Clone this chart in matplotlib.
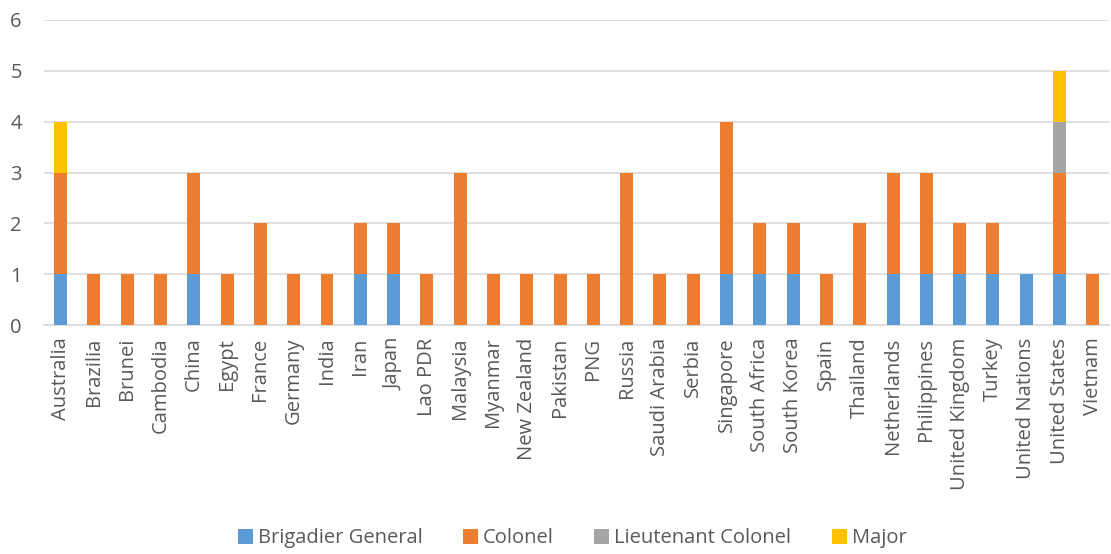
import numpy as np
import matplotlib.pyplot as plt

plt.rcParams['font.family'] = ['Open Sans', 'DejaVu Sans']

countries = ["Australia", "Brazilia", "Brunei", "Cambodia", "China", "Egypt", "France",
             "Germany", "India", "Iran", "Japan", "Lao PDR", "Malaysia", "Myanmar",
             "New Zealand", "Pakistan", "PNG", "Russia", "Saudi Arabia", "Serbia",
             "Singapore", "South Africa", "South Korea", "Spain", "Thailand",
             "Netherlands", "Philippines", "United Kingdom", "Turkey", "United Nations",
             "United States", "Vietnam"]

brigadier_general = [1, 0, 0, 0, 1, 0, 0, 0, 0, 1, 1, 0, 0, 0, 0, 0, 0, 0, 0, 0,
                     1, 1, 1, 0, 0, 1, 1, 1, 1, 1, 1, 0]
colonel = [2, 1, 1, 1, 2, 1, 2, 1, 1, 1, 1, 1, 3, 1, 1, 1, 1, 3, 1, 1,
           3, 1, 1, 1, 2, 2, 2, 1, 1, 0, 2, 1]
lieutenant_colonel = [0] * 30 + [1, 0]
major = [1] + [0] * 29 + [1, 0]

series = [
    ("Brigadier General", brigadier_general, "#5B9BD5"),
    ("Colonel", colonel, "#ED7D31"),
    ("Lieutenant Colonel", lieutenant_colonel, "#A5A5A5"),
    ("Major", major, "#FFC000"),
]

fig = plt.figure(figsize=(11.11, 5.54), dpi=100)
ax = fig.add_axes([0.0396, 0.413, 0.959, 0.551])

x = np.arange(len(countries))
bottom = np.zeros(len(countries))
for label, vals, color in series:
    vals = np.array(vals, dtype=float)
    ax.bar(x, vals, bottom=bottom, width=0.39, color=color, label=label, zorder=3)
    bottom += vals

ax.set_xlim(-0.5, len(countries) - 0.5)
ax.set_ylim(0, 6)
ax.set_yticks(range(7))
ax.yaxis.grid(True, color="#D9D9D9", linewidth=1.2, zorder=0)
ax.set_xticks(x)
ax.set_xticklabels(countries, rotation=90)

for side in ["top", "right", "left"]:
    ax.spines[side].set_visible(False)
ax.spines["bottom"].set_color("#D9D9D9")
ax.spines["bottom"].set_linewidth(1.2)
ax.tick_params(axis="both", length=0, labelsize=14.5, colors="#595959")
ax.tick_params(axis="y", pad=16)
ax.tick_params(axis="x", pad=9)

fig.legend(loc="center", bbox_to_anchor=(0.515, 0.028), ncol=4, frameon=False,
           fontsize=14.5, handlelength=0.75, handleheight=0.75, handletextpad=0.25,
           columnspacing=2.0, labelcolor="#595959")

fig.savefig("out.png", dpi=100)
